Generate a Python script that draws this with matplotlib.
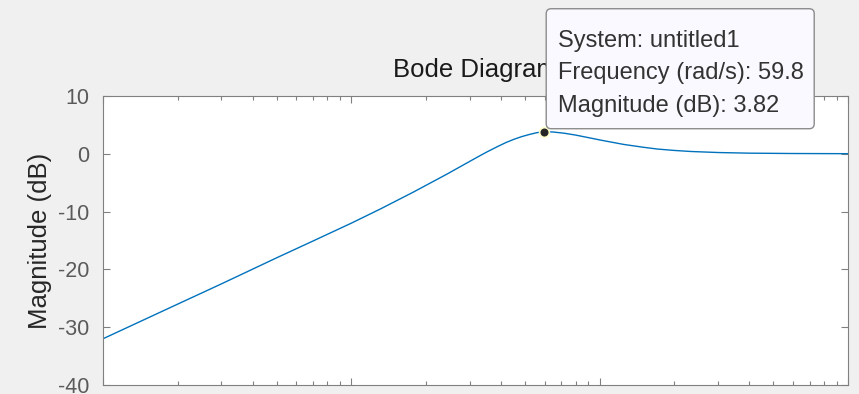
import matplotlib
matplotlib.use("Agg")
import matplotlib.pyplot as plt
from matplotlib.patches import FancyBboxPatch
from matplotlib.transforms import IdentityTransform
from matplotlib.ticker import LogLocator, NullFormatter, FixedLocator

plt.rcParams['font.family'] = ['Liberation Sans', 'DejaVu Sans']
plt.rcParams['axes.unicode_minus'] = False

# magnitude response (rad/s, dB)
freq = [1, 2, 3, 5, 7, 10, 13.1, 17.8, 24.3, 32.1, 35, 38.7, 42, 45.1, 48.5,
        52.7, 56, 59.8, 65, 72, 80, 92, 100, 125, 150, 171, 200, 233, 300,
        400, 600, 1000]
mag_db = [-32.0, -26.0, -22.5, -18.0, -15.1, -12.0, -9.54, -6.61, -3.50,
          -0.60, 0.28, 1.23, 1.96, 2.50, 2.97, 3.40, 3.66, 3.82, 3.77, 3.56,
          3.24, 2.72, 2.40, 1.62, 1.13, 0.82, 0.58, 0.40, 0.22, 0.11, 0.05,
          0.02]

# data tip
tip_freq = 59.8
tip_mag = 3.82
tip_lines = ["System: untitled1",
             "Frequency (rad/s): 59.8",
             "Magnitude (dB): 3.82"]

y_ticks = [10, 0, -10, -20, -30, -40]

W, H = 859, 394
fig = plt.figure(figsize=(W / 100, H / 100), dpi=100, facecolor='#f0f0f0')
ax = fig.add_axes([103 / W, 1 - 385 / H, 745 / W, 289 / H])
ax.set_facecolor('white')

ax.semilogx(freq, mag_db, color='#0072bd', lw=1.0)
ax.set_xlim(1, 1000)
ax.set_ylim(-40, 10)

ax.yaxis.set_major_locator(FixedLocator(y_ticks))
ax.xaxis.set_major_locator(LogLocator(base=10))
ax.xaxis.set_minor_locator(LogLocator(base=10, subs=range(2, 10)))
ax.xaxis.set_major_formatter(NullFormatter())
ax.xaxis.set_minor_formatter(NullFormatter())

ax.tick_params(which='both', direction='in', top=True, right=True,
               color='#808080', width=0.8)
ax.tick_params(which='major', length=5)
ax.tick_params(which='minor', length=3)
ax.tick_params(axis='y', labelsize=15.5, labelcolor='#5a5a5a', pad=10)
for s in ax.spines.values():
    s.set_color('#808080')
    s.set_linewidth(0.8)

ax.set_ylabel("Magnitude (dB)", fontsize=18.5, color='#262626')
ax.yaxis.set_label_coords(-0.0685, 0.5)
ax.set_title("Bode Diagram", fontsize=18.5, color='#1a1a1a', pad=13.5)

ax.plot([tip_freq], [tip_mag], 'o', ms=7, mfc='#262626', mec='#ffffcc',
        mew=1.2, zorder=6, clip_on=False)

# data tip box, placed in pixels relative to the marked point
px, py = ax.transData.transform((tip_freq, tip_mag))
bx, by, bw, bh = px + 2, py + 3, 268, 120
fig.patches.append(FancyBboxPatch((bx, by), bw, bh,
                                  boxstyle='round,pad=0,rounding_size=5',
                                  transform=IdentityTransform(), fc='#f9f9ff',
                                  ec='#8c8c8c', lw=1, zorder=8))
for i, line in enumerate(tip_lines):
    fig.text(bx + 12, by + bh - 38 - 32.7 * i, line, transform=IdentityTransform(),
             fontsize=17, color='#333333', ha='left', va='baseline', zorder=9)

fig.savefig("out.png", dpi=100, facecolor=fig.get_facecolor())
